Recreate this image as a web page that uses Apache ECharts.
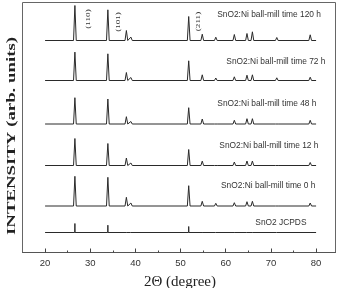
<!DOCTYPE html>
<html>
<head>
<meta charset="utf-8">
<script src="https://cdn.jsdelivr.net/npm/echarts@6/dist/echarts.min.js"></script>
<style>html,body{margin:0;padding:0;background:#fff;}#c{width:340px;height:288px;}</style>
</head>
<body>
<div id="c"></div>
<script>
// ---- data ----
const peakPositions = [26.6, 33.9, 38.0, 39.0, 51.8, 54.8, 57.8, 61.9, 64.7, 65.9, 71.3, 78.7];
const seriesNames = ['SnO2:Ni ball-mill time 120 h', 'SnO2:Ni ball-mill time 72 h', 'SnO2:Ni ball-mill time 48 h', 'SnO2:Ni ball-mill time 12 h', 'SnO2:Ni ball-mill time 0 h', 'SnO2 JCPDS'];
const h120 = [35, 30.7, 10, 3.4, 24, 6.3, 3.3, 6, 7, 8.7, 3, 5.7];
const h72 = [28.4, 26.7, 8, 3, 19.7, 5.7, 2.5, 3.7, 5.3, 5.7, 2.7, 3.3];
const h48 = [26.3, 25, 7.3, 2.5, 16.3, 5, 2, 3.7, 5.3, 5.3, 2, 3.7];
const h12 = [27, 22, 7.5, 2.5, 16, 4.4, 2, 3.5, 4.5, 4.5, 2, 3];
const h0 = [29.7, 28.7, 8.7, 3, 20.3, 4.7, 2.7, 3.3, 4.3, 4.7, 2, 3];
const hJCPDS = [9, 7.3, 1.5, 1, 6, 1, 1, 1, 2, 1, 0.7, 1];
const baselines = [212, 172, 128.5, 87, 46.5, 20];
const scanRange = [20, 80];
const xTickLabels = [20, 30, 40, 50, 60, 70, 80];
const xMinorTicks = [25, 35, 45, 55, 65, 75];
const millerLabels = ['(110)', '(101)', '(211)'];
const millerPositions = [26.6, 33.9, 51.8];

// ---- build ----
const heights = [h120, h72, h48, h12, h0, hJCPDS];
function buildTrace(h, base, halfW) {
  const d = [[scanRange[0], base]];
  peakPositions.forEach((p, i) => {
    d.push([p - halfW, base]);
    d.push([p, base + h[i]]);
    d.push([p + halfW, base]);
  });
  d.push([scanRange[1], base]);
  return d;
}
const series = heights.map((h, i) => ({
  type: 'line',
  name: seriesNames[i],
  data: buildTrace(h, baselines[i], i === 5 ? 0.04 : 0.3),
  showSymbol: false,
  symbol: 'none',
  animation: false,
  lineStyle: { color: '#2a2a2a', width: 1 },
  silent: true
}));

const chart = echarts.init(document.getElementById('c'), null, { renderer: 'canvas' });
const gridL = 22.5, gridT = 2.5, gridR = 4.5, gridB = 35.5;
chart.setOption({
  animation: false,
  grid: { left: gridL, top: gridT, right: gridR, bottom: gridB, show: true, borderColor: '#666', borderWidth: 1, containLabel: false },
  xAxis: [{
    type: 'value', min: 15, max: 84.3,
    axisLine: { show: true, lineStyle: { color: '#555' } },
    axisTick: { show: true, inside: true, length: 4, customValues: xTickLabels, lineStyle: { color: '#444' } },
    axisLabel: { customValues: xTickLabels, color: '#333', fontSize: 9.5, fontFamily: 'Liberation Sans', margin: 6 },
    splitLine: { show: false }
  }, {
    type: 'value', min: 15, max: 84.3, position: 'bottom',
    axisLine: { show: false },
    axisTick: { show: true, inside: true, length: 2, customValues: xMinorTicks, lineStyle: { color: '#444' } },
    axisLabel: { show: false },
    splitLine: { show: false }
  }],
  yAxis: {
    type: 'value', min: 0, max: 250,
    axisLine: { show: false }, axisTick: { show: false }, axisLabel: { show: false }, splitLine: { show: false }
  },
  series: series
});

// ---- annotations ----
const labelPos = [[321, 15], [325.5, 62], [316.5, 104], [318.5, 145.5], [315.5, 186], [306.5, 223]];
const graphics = [];
seriesNames.forEach((n, i) => {
  graphics.push({ type: 'text', x: labelPos[i][0], y: labelPos[i][1], silent: true,
    style: { text: n, fill: '#333', font: '8.4px "Liberation Sans"', textAlign: 'right', textVerticalAlign: 'middle' } });
});
const millerDx = [13, 10.5, 9.5];
const millerY = [19, 22, 21.5];
millerLabels.forEach((t, i) => {
  const px = chart.convertToPixel({ xAxisIndex: 0, yAxisIndex: 0 }, [millerPositions[i], 0])[0];
  graphics.push({ type: 'text', x: px + millerDx[i], y: millerY[i], rotation: Math.PI / 2, scaleX: 1.3, silent: true,
    style: { text: t, fill: '#333', font: '7px "Liberation Serif"', textAlign: 'center', textVerticalAlign: 'middle' } });
});
// measure helper
const cv = document.createElement('canvas').getContext('2d');
function w(txt, font) { cv.font = font; return cv.measureText(txt).width; }
const yTitle = 'INTENSITY (arb. units)';
const yFont = 'bold 12px "Liberation Serif"';
const ySc = 198 / w(yTitle, yFont);
graphics.push({ type: 'text', x: 11.5, y: 136, rotation: Math.PI / 2, scaleX: ySc, silent: true,
  style: { text: yTitle, fill: '#222', font: yFont, textAlign: 'center', textVerticalAlign: 'middle' } });
graphics.push({ type: 'text', x: 180, y: 282, silent: true,
  style: { text: '2Θ (degree)', fill: '#222', font: '15px "Liberation Serif"', textAlign: 'center', textVerticalAlign: 'middle' } });
chart.setOption({ graphic: graphics });
</script>
</body>
</html>
